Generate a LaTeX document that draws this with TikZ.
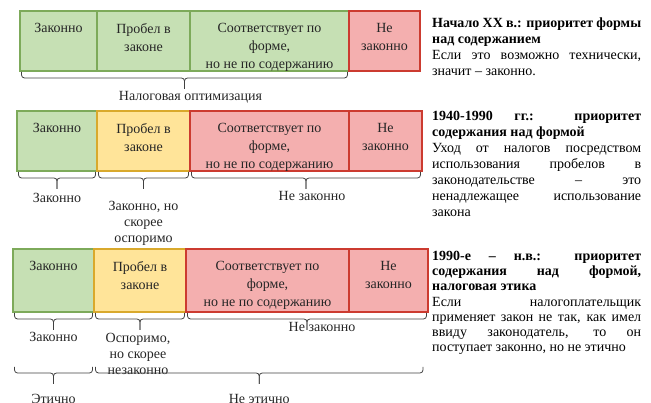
\documentclass[tikz,border=0pt]{standalone}
\usepackage{fontspec}
\setmainfont{Liberation Serif}
\usetikzlibrary{calc}

\definecolor{gfill}{HTML}{C6E0B4}
\definecolor{gline}{HTML}{7DAA5A}
\definecolor{yfill}{HTML}{FFE499}
\definecolor{yline}{HTML}{D9A92C}
\definecolor{rfill}{HTML}{F4AFAF}
\definecolor{rline}{HTML}{CC3B30}

% brace under a span: left end, right end, name of the tip
\newcommand{\hbrace}[3]{%
  \coordinate (#3-m) at ($(#1)!0.5!(#2)+(0,-18)$);
  \draw[brc] ([xshift=1.5pt,yshift=-1pt]#1) -- ++(0,-6) -| (#3-m) coordinate (#3);
  \draw[brc] ([xshift=-1.5pt,yshift=-1pt]#2) -- ++(0,-6) -| (#3-m);
}

\begin{document}
\begin{tikzpicture}[x=1pt, y=1pt,
    cell/.style={rectangle, anchor=north west, outer sep=0pt, line width=1.2pt},
    green/.style={cell, fill=gfill, draw=gline},
    yellow/.style={cell, fill=yfill, draw=yline},
    red/.style={cell, fill=rfill, draw=rline},
    intxt/.style={anchor=north, align=center, inner sep=1pt, yshift=-11pt,
      font=\fontsize{14}{18}\selectfont, text=black!85},
    brc/.style={draw=black!75, line width=0.8pt, rounded corners=3pt},
    brlbl/.style={anchor=north, align=center, inner sep=1pt,
      font=\fontsize{14}{16}\selectfont, text=black!85},
    note/.style={anchor=north west, text width=209pt, align=justify, inner sep=0pt,
      font=\fontsize{14}{16}\selectfont}]
  \useasboundingbox (0,0) rectangle (651,403);
  \clip (0,0) rectangle (651,403);

  % First row
  \node[green, minimum width=77pt, minimum height=60pt, label={[intxt]north:{Законно}}] (r1a) at (20,392) {};
  \node[green, minimum width=93pt, minimum height=60pt, label={[intxt]north:{Пробел в\\законе}}] (r1b) at (r1a.north east) {};
  \node[green, minimum width=159pt, minimum height=60pt, label={[intxt]north:{Соответствует по\\форме,\\но не по содержанию}}] (r1c) at (r1b.north east) {};
  \node[red, minimum width=71pt, minimum height=60pt, label={[intxt]north:{Не\\законно}}] (r1d) at (r1c.north east) {};

  \hbrace{r1a.south west}{r1c.south east}{t1}
  \node[brlbl, xshift=6pt, yshift=-1pt] (opt) at (t1) {Налоговая оптимизация};

  % Second row
  \node[green, minimum width=80pt, minimum height=60pt, label={[intxt]north:{Законно}}] (r2a) at (17,292) {};
  \node[yellow, minimum width=93pt, minimum height=60pt, label={[intxt]north:{Пробел в\\законе}}] (r2b) at (r2a.north east) {};
  \node[red, minimum width=159pt, minimum height=60pt, label={[intxt]north:{Соответствует по\\форме,\\но не по содержанию}}] (r2c) at (r2b.north east) {};
  \node[red, minimum width=73pt, minimum height=60pt, label={[intxt]north:{Не\\законно}}] (r2d) at (r2c.north east) {};

  \hbrace{r2a.south west}{r2a.south east}{t2a}
  \hbrace{r2b.south west}{r2b.south east}{t2b}
  \hbrace{r2c.south west}{r2d.south east}{t2c}
  \node[brlbl, yshift=-3pt] (leg2) at (t2a) {Законно};
  \node[brlbl, yshift=-11pt] (disp2) at (t2b) {Законно, но\\скорее\\оспоримо};
  \node[brlbl, xshift=6pt, yshift=-1pt] (ill2) at (t2c) {Не законно};

  % Third row
  \node[green, minimum width=81pt, minimum height=63pt, label={[intxt]north:{Законно}}] (r3a) at (13,154) {};
  \node[yellow, minimum width=92pt, minimum height=63pt, label={[intxt]north:{Пробел в\\законе}}] (r3b) at (r3a.north east) {};
  \node[red, minimum width=163pt, minimum height=63pt, label={[intxt]north:{Соответствует по\\форме,\\но не по содержанию}}] (r3c) at (r3b.north east) {};
  \node[red, minimum width=79pt, minimum height=63pt, label={[intxt]north:{Не\\законно}}] (r3d) at (r3c.north east) {};

  \hbrace{r3a.south west}{r3a.south east}{t3a}
  \hbrace{r3b.south west}{r3b.south east}{t3b}
  \hbrace{r3c.south west}{r3d.south east}{t3c}
  \node[brlbl, yshift=-1pt] (leg3) at (t3a) {Законно};
  \node[brlbl, xshift=-2pt, yshift=-2pt] (disp3) at (t3b) {Оспоримо,\\но скорее\\незаконно};
  \node[brlbl, anchor=center, xshift=15pt, yshift=3pt] (ill3) at (t3c) {Не законно};

  % Ethics
  \coordinate (lvl) at (0,37);
  \coordinate (ethR) at (424.5,37);
  \hbrace{r3a.south west |- lvl}{r3a.south east |- lvl}{t4a}
  \hbrace{r3b.south west |- lvl}{ethR}{t4b}
  \node[brlbl, yshift=-9pt] (eth) at (t4a) {Этично};
  \node[brlbl, yshift=-9pt] (uneth) at (t4b) {Не этично};

  % Periods
  \node[note] (p1) at (432,385) {\textbf{Начало XX в.: приоритет формы\linebreak над содержанием}\par
    Если это возможно технически,\linebreak значит – законно.};
  \node[note] (p2) at (432,292) {\textbf{1940-1990 гг.: приоритет\linebreak содержания над формой}\par
    Уход от налогов посредством\linebreak использования пробелов в\linebreak законодательстве – это\linebreak ненадлежащее использование\linebreak закона};
  \node[note, font=\fontsize{14}{15.2}\selectfont] (p3) at (432,152) {\textbf{1990-е – н.в.: приоритет\linebreak содержания над формой,\linebreak налоговая этика}\par
    Если налогоплательщик\linebreak применяет закон не так, как имел\linebreak ввиду законодатель, то он\linebreak поступает законно, но не этично};
\end{tikzpicture}
\end{document}
